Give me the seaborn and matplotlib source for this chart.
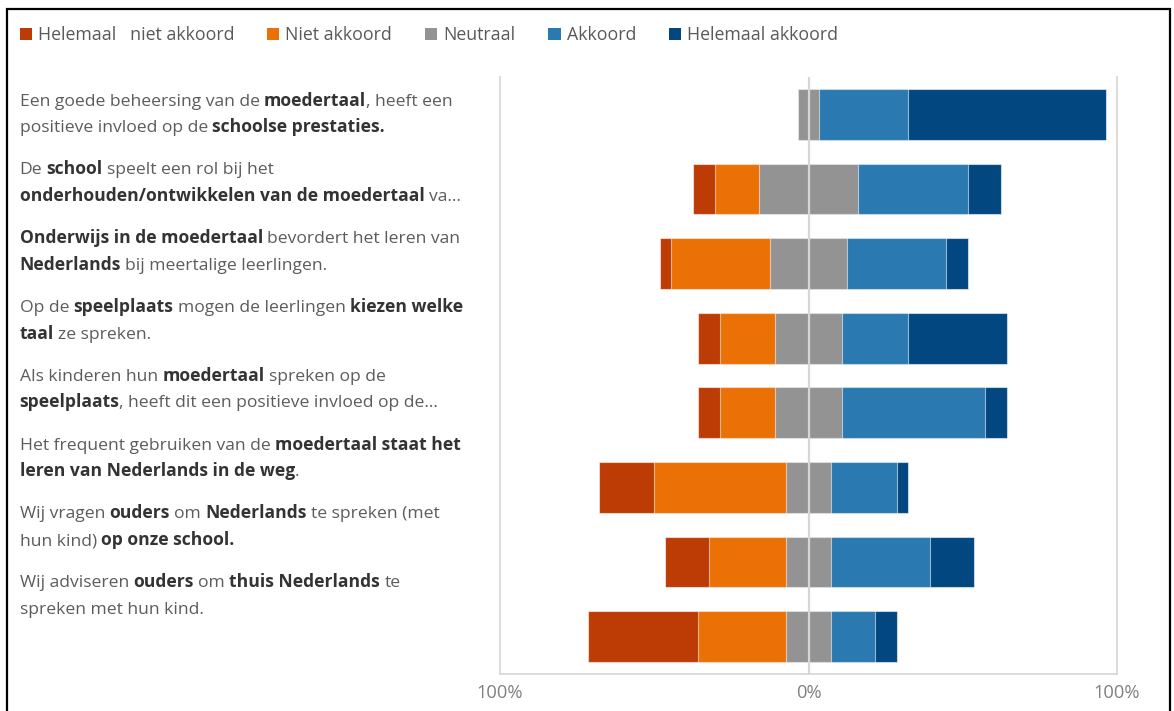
import matplotlib
matplotlib.use("Agg")
import matplotlib.pyplot as plt
from matplotlib.patches import Patch, Rectangle
import seaborn as sns
import pandas as pd

# ---- data (percentages of respondents per answer) ----
helemaal_niet_akkoord = [0.0, 7.1, 3.6, 7.1, 7.1, 17.9, 14.3, 35.7]
niet_akkoord = [0.0, 14.3, 32.1, 17.9, 17.9, 42.9, 25.0, 28.6]
neutraal = [7.1, 32.1, 25.0, 21.4, 21.4, 14.3, 14.3, 14.3]
akkoord = [28.6, 35.7, 32.1, 21.4, 46.4, 21.4, 32.1, 14.3]
helemaal_akkoord = [64.3, 10.7, 7.1, 32.1, 7.1, 3.6, 14.3, 7.1]

legend_labels = ["Helemaal   niet akkoord", "Niet akkoord", "Neutraal",
                 "Akkoord", "Helemaal akkoord"]
tick_values = [-100, 0, 100]
tick_labels = ["100%", "0%", "100%"]

# statements: two lines each, made of (text, bold) pieces
stellingen = [
    [[("Een goede beheersing van de ", False), ("moedertaal", True), (", heeft een", False)],
     [("positieve invloed op de ", False), ("schoolse prestaties.", True)]],
    [[("De ", False), ("school", True), (" speelt een rol bij het", False)],
     [("onderhouden/ontwikkelen van de moedertaal", True), (" va...", False)]],
    [[("Onderwijs in de moedertaal", True), (" bevordert het leren van", False)],
     [("Nederlands", True), (" bij meertalige leerlingen.", False)]],
    [[("Op de ", False), ("speelplaats", True), (" mogen de leerlingen ", False), ("kiezen welke", True)],
     [("taal", True), (" ze spreken.", False)]],
    [[("Als kinderen hun ", False), ("moedertaal", True), (" spreken op de", False)],
     [("speelplaats", True), (", heeft dit een positieve invloed op de...", False)]],
    [[("Het frequent gebruiken van de ", False), ("moedertaal staat het", True)],
     [("leren van Nederlands in de weg", True), (".", False)]],
    [[("Wij vragen ", False), ("ouders", True), (" om ", False), ("Nederlands", True), (" te spreken (met", False)],
     [("hun kind) ", False), ("op onze school.", True)]],
    [[("Wij adviseren ", False), ("ouders", True), (" om ", False), ("thuis Nederlands", True), (" te", False)],
     [("spreken met hun kind.", False)]],
]

colors = ["#BD3C05", "#EB7107", "#939393", "#2B79B1", "#02477F"]

# ---- style ----
sns.set_theme(style="white")
plt.rcParams["font.family"] = ["Open Sans", "DejaVu Sans"]

W, H = 1174, 711
fig = plt.figure(figsize=(W / 100, H / 100), dpi=100)
ax = fig.add_axes([500 / W, 1 - 674 / H, 617 / W, 597 / H])

keys = [" ".join(p for line in s for p, _ in line) for s in stellingen]
df = pd.DataFrame({
    "stelling": keys,
    "hna": helemaal_niet_akkoord,
    "na": niet_akkoord,
    "neu": neutraal,
    "a": akkoord,
    "ha": helemaal_akkoord,
})
# cumulative extents of a diverging stack centred on the neutral block
df["neg_outer"] = -(df["neu"] / 2 + df["na"] + df["hna"])
df["neg_mid"] = -(df["neu"] / 2 + df["na"])
df["neg_inner"] = -(df["neu"] / 2)
df["pos_outer"] = df["neu"] / 2 + df["a"] + df["ha"]
df["pos_mid"] = df["neu"] / 2 + df["a"]
df["pos_inner"] = df["neu"] / 2

layers = [("neg_outer", colors[0]), ("neg_mid", colors[1]), ("neg_inner", colors[2]),
          ("pos_outer", colors[4]), ("pos_mid", colors[3]), ("pos_inner", colors[2])]
for col, c in layers:
    sns.barplot(data=df, x=col, y="stelling", order=keys, orient="h", color=c,
                saturation=1, width=0.68, errorbar=None, ax=ax,
                edgecolor=(1, 1, 1, 0.55), linewidth=0.8)

ax.axvline(0, color="#d6d6d6", lw=1.6, zorder=5)
ax.set_xlim(-100, 100)
ax.set_ylim(7.5, -0.5)
ax.set_xticks(tick_values)
ax.set_xticklabels(tick_labels)
ax.tick_params(axis="x", length=0, pad=7, labelsize=13.2, labelcolor="#808080")
ax.tick_params(axis="y", left=False, labelleft=False)
ax.set_xlabel("")
ax.set_ylabel("")
for side in ["left", "right", "bottom"]:
    ax.spines[side].set_color("#d9d9d9")
    ax.spines[side].set_linewidth(1.3)
ax.spines["top"].set_visible(False)

# legend
handles = [Patch(facecolor=c, edgecolor="none") for c in colors]
fig.legend(handles, legend_labels, ncol=5, loc="center left",
           bbox_to_anchor=(19.5 / W, 1 - 35 / H), frameon=False, fontsize=12.8,
           labelcolor="#595959", handlelength=0.68, handleheight=0.68,
           handletextpad=0.34, columnspacing=1.86, borderpad=0, borderaxespad=0)

# statement labels with mixed weights
renderer = fig.canvas.get_renderer()
FS = 12.6


def text_width(s, bold):
    t = fig.text(0, 0, s, fontsize=FS, fontweight="bold" if bold else "normal")
    w = t.get_window_extent(renderer).width
    t.remove()
    return w


space_w = {b: text_width("n n", b) - text_width("nn", b) for b in (False, True)}


def draw_line(x_px, base_px, pieces):
    x = x_px
    for txt, bold in pieces:
        lead = len(txt) - len(txt.lstrip(" "))
        trail = len(txt) - len(txt.rstrip(" "))
        core = txt.strip(" ")
        x += lead * space_w[bold]
        t = fig.text(x / W, 1 - base_px / H, core, fontsize=FS,
                     fontweight="bold" if bold else "normal",
                     color="#333333" if bold else "#5c5c5c",
                     ha="left", va="baseline")
        x += t.get_window_extent(renderer).width + trail * space_w[bold]


for i, lines in enumerate(stellingen):
    base = 105.5 + 68.8 * i
    for j, pieces in enumerate(lines):
        draw_line(19.5, base + 26.7 * j, pieces)

# outer frame
fig.patches.append(Rectangle((7 / W, -0.05), (1170 - 7) / W, 1.05 - 9 / H,
                             transform=fig.transFigure, fill=False,
                             edgecolor="black", linewidth=1.6))

fig.savefig("out.png", dpi=100)
